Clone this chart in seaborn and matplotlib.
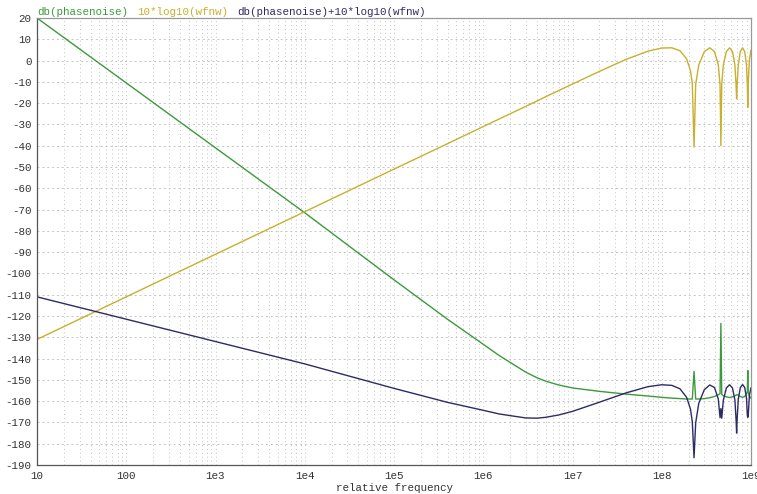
import numpy as np
import pandas as pd
import matplotlib
matplotlib.use("Agg")
import matplotlib.pyplot as plt
from matplotlib.ticker import FixedLocator, NullFormatter, FuncFormatter
import seaborn as sns

# Frequency grid shared by both measured traces (relative frequency)
freq = [
    1e1, 1e2, 1e3, 1e4, 1e5, 2e5, 4e5, 1e6, 1.5e6, 2e6, 3e6, 4e6, 5e6, 7e6,
    1e7, 2e7, 4e7, 7e7, 1e8, 1.3e8, 1.6e8, 1.9e8, 2.1e8, 2.2e8,
    2.3e8, 2.4e8, 2.6e8, 3.0e8, 3.45e8, 3.9e8, 4.3e8, 4.5e8,
    4.6e8, 4.7e8, 4.9e8, 5.3e8, 5.75e8, 6.2e8, 6.6e8, 6.8e8,
    6.9e8, 7.0e8, 7.2e8, 7.6e8, 8.05e8, 8.5e8, 8.9e8, 9.1e8,
    9.2e8, 9.3e8, 9.6e8, 1e9,
]

# db(phasenoise)
phasenoise_db = [
    20.0, -10.5, -41.0, -71.5, -103.0, -112.3, -121.6, -133.3, -138.5, -141.8, -146.4, -149.0, -150.6, -152.4,
    -153.8, -155.4, -156.7, -157.6, -158.2, -158.6, -158.8, -159.0, -159.0, -159.0,
    -146.0, -159.0, -159.0, -158.8, -158.4, -157.8, -157.0, -156.5,
    -123.5, -156.8, -157.5, -158.0, -158.3, -158.0, -157.5, -157.2,
    -157.0, -157.0, -157.2, -157.8, -158.2, -157.8, -156.5, -155.5,
    -145.6, -156.0, -157.5, -158.7,
]

# 10*log10(wfnw)
wfnw_db = [
    -131.0, -111.0, -91.0, -71.0, -51.0, -45.0, -39.0, -31.0, -27.5, -25.0, -21.5, -19.0, -17.0, -14.1,
    -11.0, -5.1, 0.6, 4.4, 5.9, 6.0, 4.6, 0.8, -4.8, -10.8,
    -40.6, -11.2, -2.0, 4.2, 6.0, 4.2, -2.0, -11.3,
    -40.0, -11.2, -2.0, 4.2, 6.0, 4.2, -2.0, -11.3,
    -18.0, -11.2, -2.0, 4.2, 6.0, 4.2, -2.0, -11.3,
    -22.0, -11.2, 0.4, 5.0,
]

labels = ["db(phasenoise)", "10*log10(wfnw)", "db(phasenoise)+10*log10(wfnw)"]
colors = ["#3c9a3c", "#c8b02c", "#2c2c64"]

y_ticks = list(range(20, -191, -10))
x_ticks = [1e1, 1e2, 1e3, 1e4, 1e5, 1e6, 1e7, 1e8, 1e9]
x_tick_labels = ["10", "100", "1e3", "1e4", "1e5", "1e6", "1e7", "1e8", "1e9"]

df = pd.DataFrame({"freq": freq, "pn": phasenoise_db, "wf": wfnw_db})
df["total"] = df["pn"] + df["wf"]

sns.set_theme(style="white")
plt.rcParams["font.family"] = ["Liberation Mono", "DejaVu Sans Mono"]

fig = plt.figure(figsize=(7.57, 4.94), dpi=100)
ax = fig.add_axes([37 / 757, 1 - 465 / 494, (751 - 37) / 757, (465 - 18) / 494])

for col, c in zip(["pn", "wf", "total"], colors):
    sns.lineplot(data=df, x="freq", y=col, ax=ax, color=c, lw=1.0,
                 estimator=None, sort=False, legend=False)

ax.set_xscale("log")
ax.set_xlim(10, 1e9)
ax.set_ylim(-190, 20)

# Grid: dashed horizontals every 10 dB, dotted verticals at 2..9 and each decade
minor = [m * 10 ** e for e in range(1, 9) for m in range(2, 10)]
ax.xaxis.set_major_locator(FixedLocator(x_ticks))
ax.xaxis.set_minor_locator(FixedLocator(minor))
ax.xaxis.set_minor_formatter(NullFormatter())
ax.set_xticklabels(x_tick_labels)
ax.set_yticks(y_ticks)
ax.yaxis.set_major_formatter(FuncFormatter(lambda v, p: f"{int(v)}"))

ax.grid(True, which="major", axis="y", color="#c4c4c4", lw=0.7, linestyle=(0, (2, 3)))
ax.grid(True, which="both", axis="x", color="#c4c4c4", lw=0.7, linestyle=(0, (1, 3)))
ax.set_axisbelow(True)

ax.tick_params(axis="y", which="both", length=0, labelsize=7.8, colors="#333333", pad=4)
ax.tick_params(axis="x", which="both", length=0, labelsize=7.8, colors="#333333", pad=4)
for s in ax.spines.values():
    s.set_color("#999999")
    s.set_linewidth(0.9)
ax.spines["left"].set_color("#555555")
ax.spines["bottom"].set_color("#555555")

ax.set_xlabel("relative frequency", fontsize=7.8, color="#333333", labelpad=2)
ax.set_ylabel("")

# Trace names along the top edge
for lab, c, xpos in zip(labels, colors, [37, 137, 237]):
    fig.text(xpos / 757, 1 - 12 / 494, lab, color=c, fontsize=7.8, ha="left", va="center")

fig.savefig("out.png", dpi=100)
